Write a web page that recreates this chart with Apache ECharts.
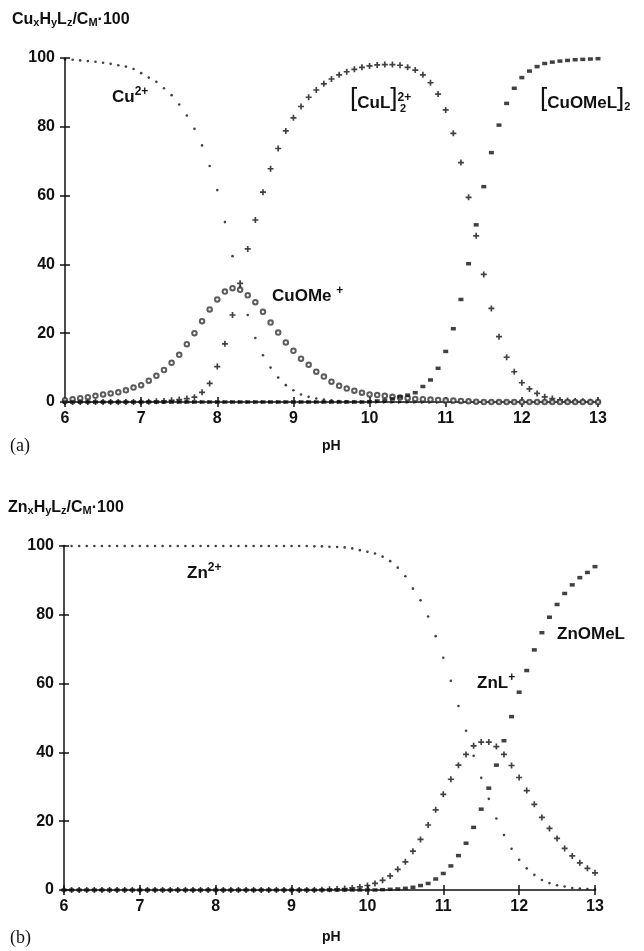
<!DOCTYPE html>
<html>
<head>
<meta charset="utf-8">
<script src="https://cdn.jsdelivr.net/npm/echarts@6/dist/echarts.min.js"></script>
<style>
  html, body { margin: 0; padding: 0; background: #fff; }
  #main { width: 644px; height: 951px; }
</style>
</head>
<body>
<div id="main"></div>
<script>
// pH grid, 0.1 steps
var pH = [
  6.0, 6.1, 6.2, 6.3, 6.4, 6.5, 6.6, 6.7, 6.8, 6.9,
  7.0, 7.1, 7.2, 7.3, 7.4, 7.5, 7.6, 7.7, 7.8, 7.9,
  8.0, 8.1, 8.2, 8.3, 8.4, 8.5, 8.6, 8.7, 8.8, 8.9,
  9.0, 9.1, 9.2, 9.3, 9.4, 9.5, 9.6, 9.7, 9.8, 9.9,
  10.0, 10.1, 10.2, 10.3, 10.4, 10.5, 10.6, 10.7, 10.8, 10.9,
  11.0, 11.1, 11.2, 11.3, 11.4, 11.5, 11.6, 11.7, 11.8, 11.9,
  12.0, 12.1, 12.2, 12.3, 12.4, 12.5, 12.6, 12.7, 12.8, 12.9,
  13.0
];
var xTicks = [6, 7, 8, 9, 10, 11, 12, 13];
var yTicks = [0, 20, 40, 60, 80, 100];

// (a) copper species, % of C_M
var cu2 = [
  99.6, 99.5, 99.3, 99.1, 98.9, 98.6, 98.3, 97.9, 97.5, 96.8,
  95.6, 94.3, 93.1, 91.2, 89.2, 86.5, 83.3, 79.4, 74.6, 68.6,
  61.6, 52.3, 42.4, 33.5, 25.3, 18.6, 13.6, 10.0, 7.1, 4.9,
  3.4, 2.2, 1.5, 1.0, 0.7, 0.5, 0.3, 0.2, 0.1, 0,
  0, 0, 0, 0, 0, 0, 0, 0, 0, 0,
  0, 0, 0, 0, 0, 0, 0, 0, 0, 0,
  0, 0, 0, 0, 0, 0, 0, 0, 0, 0,
  0
];
var cuL = [
  0, 0, 0, 0, 0, 0, 0, 0, 0, 0,
  0, 0.1, 0.2, 0.3, 0.5, 0.7, 1.0, 1.4, 2.8, 5.4,
  10.3, 16.9, 25.3, 34.5, 44.5, 52.9, 61.0, 67.8, 73.7, 78.8,
  82.6, 85.9, 88.6, 90.7, 92.5, 93.9, 95.1, 96.0, 96.7, 97.3,
  97.7, 98.0, 98.1, 98.1, 97.9, 97.3, 96.5, 95.1, 92.8, 89.5,
  84.9, 78.1, 69.6, 59.5, 48.3, 37.1, 27.2, 19.0, 13.0, 8.8,
  5.6, 3.8, 2.5, 1.5, 1.0, 0.6, 0.4, 0.3, 0.2, 0.1,
  0.1
];
var cuOMe = [
  0.5, 0.8, 1.1, 1.4, 1.8, 2.2, 2.5, 2.8, 3.4, 4.2,
  4.9, 6.2, 7.6, 9.3, 11.4, 13.7, 16.8, 20.0, 23.5, 26.9,
  29.8, 32.1, 33.1, 32.6, 31.0, 29.0, 26.2, 23.1, 20.2, 17.3,
  14.9, 12.6, 10.8, 8.8, 7.4, 5.9, 4.7, 3.9, 3.3, 2.7,
  2.2, 2.0, 1.8, 1.5, 1.3, 1.1, 0.9, 0.8, 0.7, 0.6,
  0.5, 0.4, 0.3, 0.2, 0.1, 0, 0, 0, 0, 0,
  0, 0, 0, 0, 0, 0, 0, 0, 0, 0,
  0
];
var cuOMeL = [
  0, 0, 0, 0, 0, 0, 0, 0, 0, 0,
  0, 0, 0, 0, 0, 0, 0, 0, 0, 0,
  0, 0, 0, 0, 0, 0, 0, 0, 0, 0,
  0, 0, 0, 0, 0, 0, 0, 0, 0, 0,
  0.1, 0.3, 0.5, 0.9, 1.5, 2.0, 2.7, 4.5, 6.4, 9.8,
  14.7, 21.3, 29.8, 40.2, 51.5, 62.6, 72.5, 80.5, 86.8, 91.2,
  94.3, 96.2, 97.5, 98.4, 98.8, 99.1, 99.3, 99.5, 99.6, 99.7,
  99.8
];
// minor species lying on the baseline
var cuMinor = [
  0, 0, 0, 0, 0, 0, 0, 0, 0, 0,
  0, 0, 0, 0, 0, 0, 0, 0, 0, 0,
  0, 0, 0, 0, 0, 0, 0, 0, 0, 0,
  0, 0, 0, 0, 0, 0, 0, 0, 0, 0,
  0, 0, 0, 0, 0, 0, 0, 0, 0, 0,
  0, 0, 0, 0, 0, 0, 0, 0, 0, 0,
  0, 0, 0, 0, 0, 0, 0, 0, 0, 0,
  0
];

// (b) zinc species, % of C_M
var zn2 = [
  100, 100, 100, 100, 100, 100, 100, 100, 100, 100,
  100, 100, 100, 100, 100, 100, 100, 100, 100, 100,
  100, 100, 100, 100, 100, 100, 100, 100, 100, 100,
  100, 100, 100, 99.9, 99.9, 99.8, 99.7, 99.6, 99.3, 98.8,
  98.3, 97.8, 96.9, 95.6, 93.7, 91.2, 87.6, 84.2, 79.5, 73.8,
  67.5, 60.8, 53.5, 46.3, 39.0, 32.6, 26.5, 20.8, 16.0, 12.0,
  8.8, 6.3, 4.4, 2.9, 2.0, 1.4, 1.0, 0.6, 0.4, 0.3,
  0.1
];
var znL = [
  0, 0, 0, 0, 0, 0, 0, 0, 0, 0,
  0, 0, 0, 0, 0, 0, 0, 0, 0, 0,
  0, 0, 0, 0, 0, 0, 0, 0, 0, 0,
  0, 0, 0, 0, 0.1, 0.2, 0.3, 0.4, 0.6, 0.9,
  1.3, 1.9, 2.8, 4.1, 6.0, 8.2, 11.3, 14.7, 18.9, 23.3,
  27.8, 32.2, 36.3, 39.4, 41.9, 43.0, 43.0, 41.7, 39.4, 36.2,
  32.7, 28.9, 24.9, 21.1, 17.9, 15.0, 12.1, 9.9, 7.9, 6.3,
  5.0
];
var znOMeL = [
  0, 0, 0, 0, 0, 0, 0, 0, 0, 0,
  0, 0, 0, 0, 0, 0, 0, 0, 0, 0,
  0, 0, 0, 0, 0, 0, 0, 0, 0, 0,
  0, 0, 0, 0, 0, 0, 0, 0, 0, 0,
  0, 0, 0.1, 0.2, 0.3, 0.5, 0.8, 1.3, 1.9, 3.2,
  4.8, 7.0, 10.0, 13.6, 18.2, 23.5, 29.6, 36.3, 43.4, 50.4,
  57.5, 63.8, 69.8, 74.8, 79.3, 83.0, 86.2, 88.7, 90.8, 92.3,
  94.0
];

var INK = '#111';
var SANS = '"Liberation Sans", Arial, sans-serif';
// small bold cross
var PLUS = 'path://M1.8,0h1.4v1.8h1.8v1.4h-1.8v1.8h-1.4v-1.8h-1.8v-1.4h1.8z';

function pairs(vals){
  return pH.map(function(p, i){ return [p, vals[i]]; });
}

// one scatter series of symbols on the given axes pair
function marks(name, vals, axis, symbol, size, extra){
  var s = {
    name: name,
    type: 'scatter',
    xAxisIndex: axis,
    yAxisIndex: axis,
    data: pairs(vals),
    symbol: symbol,
    symbolSize: size,
    itemStyle: { color: INK },
    silent: true,
    z: 3
  };
  return Object.assign(s, extra || {});
}

// value axes; "inner" copies only draw the inner half of the crossing ticks
function xAx(grid, inner){
  return {
    type: 'value', gridIndex: grid, position: 'bottom', min: 6, max: 13, interval: 1,
    axisLine: { show: !inner, onZero: false, lineStyle: { color: INK, width: 1.5 } },
    axisTick: { show: true, inside: inner, length: 5, lineStyle: { color: INK, width: 1.5 } },
    axisLabel: { show: !inner, margin: 9, color: INK, fontFamily: SANS, fontWeight: 'bold', fontSize: 16 },
    splitLine: { show: false }
  };
}
function yAx(grid, inner){
  return {
    type: 'value', gridIndex: grid, position: 'left', min: 0, max: 100, interval: 20,
    axisLine: { show: !inner, onZero: false, lineStyle: { color: INK, width: 1.5 } },
    axisTick: { show: true, inside: inner, length: 5, lineStyle: { color: INK, width: 1.5 } },
    axisLabel: { show: !inner, margin: 10, color: INK, fontFamily: SANS, fontWeight: 'bold', fontSize: 16 },
    splitLine: { show: false }
  };
}

// text helpers for the figure annotations
var RICH = {
  t: { fontFamily: SANS, fontWeight: 'bold', fontSize: 17, color: INK, lineHeight: 20, verticalAlign: 'bottom' },
  sup: { fontFamily: SANS, fontWeight: 'bold', fontSize: 12, color: INK, lineHeight: 10, verticalAlign: 'top' },
  sub: { fontFamily: SANS, fontWeight: 'bold', fontSize: 11, color: INK, lineHeight: 10, verticalAlign: 'bottom' },
  br: { fontFamily: SANS, fontSize: 26, color: INK, lineHeight: 20, verticalAlign: 'bottom' },
  h: { fontFamily: SANS, fontWeight: 'bold', fontSize: 16, color: INK, lineHeight: 16, verticalAlign: 'top' },
  hs: { fontFamily: SANS, fontWeight: 'bold', fontSize: 11, color: INK, lineHeight: 12, verticalAlign: 'bottom' }
};
function label(x, y, text, font){
  return {
    type: 'text', left: x, top: y, silent: true,
    style: { text: text, rich: RICH, fill: INK, font: font || ('bold 16px ' + SANS) }
  };
}

var chart = echarts.init(document.getElementById('main'), null, { renderer: 'canvas' });

chart.setOption({
  backgroundColor: '#fff',
  animation: false,
  grid: [
    { left: 65, right: 46, top: 58, height: 344 },
    { left: 64, right: 49, top: 546, height: 344 }
  ],
  xAxis: [xAx(0, false), xAx(0, true), xAx(1, false), xAx(1, true)],
  yAxis: [yAx(0, false), yAx(0, true), yAx(1, false), yAx(1, true)],
  series: [
    marks('Cu2+', cu2, 0, 'circle', 2.6),
    marks('CuL2 2+', cuL, 0, PLUS, 6),
    marks('CuOMe+', cuOMe, 0, 'emptyCircle', 4.5, { itemStyle: { color: '#333', borderWidth: 0.8 } }),
    marks('[CuOMeL]2', cuOMeL, 0, 'rect', [5, 3.5]),
    marks('minor', cuMinor, 0, 'triangle', 4, { symbolRotate: -90, z: 2 }),
    marks('Zn2+', zn2, 2, 'circle', 2.6),
    marks('ZnL+', znL, 2, PLUS, 6),
    marks('ZnOMeL', znOMeL, 2, 'rect', [5, 3.5])
  ],
  graphic: [
    // axis titles
    label(12, 12, '{h|Cu}{hs|x}{h|H}{hs|y}{h|L}{hs|z}{h|/C}{hs|M}{h|·100}'),
    label(8, 500, '{h|Zn}{hs|x}{h|H}{hs|y}{h|L}{hs|z}{h|/C}{hs|M}{h|·100}'),
    label(322, 439, 'pH', 'bold 14px ' + SANS),
    label(322, 930, 'pH', 'bold 14px ' + SANS),
    label(10, 437, '(a)', '18px "Liberation Serif", serif'),
    label(10, 929, '(b)', '18px "Liberation Serif", serif'),
    // species labels, panel (a)
    label(112, 86, '{t|Cu}{sup|2+}'),
    label(350, 86, '{br|[}{t|CuL}{br|]}{sup|2+}'),
    label(400, 103, '{sub|2}'),
    label(540, 86, '{br|[}{t|CuOMeL}{br|]}{sub|2}'),
    label(272, 285, '{t|CuOMe }{sup|+}'),
    // species labels, panel (b)
    label(187, 562, '{t|Zn}{sup|2+}'),
    label(477, 672, '{t|ZnL}{sup|+}'),
    label(557, 626, '{t|ZnOMeL}')
  ]
});
</script>
</body>
</html>
